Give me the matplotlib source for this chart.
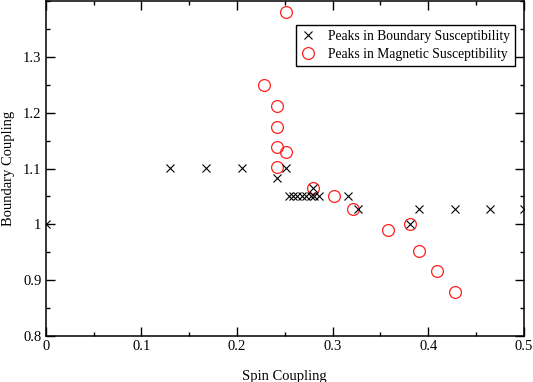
import matplotlib
matplotlib.use("Agg")
import matplotlib.pyplot as plt
from matplotlib.ticker import MultipleLocator, FuncFormatter

plt.rcParams['font.family'] = ['Liberation Serif', 'DejaVu Serif']

# Peaks in Boundary Susceptibility
bx = [0.0, 0.130, 0.168, 0.205, 0.251, 0.242,
      0.254, 0.259, 0.263, 0.268, 0.272, 0.277, 0.281, 0.286,
      0.279, 0.316, 0.326, 0.381, 0.390, 0.428, 0.465, 0.500]
by = [1.000, 1.101, 1.101, 1.101, 1.101, 1.083,
      1.050, 1.050, 1.050, 1.050, 1.050, 1.050, 1.050, 1.050,
      1.065, 1.050, 1.027, 1.000, 1.027, 1.027, 1.027, 1.027]

# Peaks in Magnetic Susceptibility
mx = [0.251, 0.228, 0.242, 0.242, 0.242, 0.251, 0.242, 0.279,
      0.301, 0.321, 0.358, 0.381, 0.390, 0.409, 0.428]
my = [1.380, 1.250, 1.213, 1.175, 1.139, 1.129, 1.102, 1.065,
      1.050, 1.027, 0.990, 1.000, 0.953, 0.916, 0.879]

xticks = [0, 0.1, 0.2, 0.3, 0.4, 0.5]
yticks = [0.8, 0.9, 1.0, 1.1, 1.2, 1.3]

fig = plt.figure(figsize=(5.33, 3.82), dpi=100)
ax = fig.add_axes([0.0857, 0.1204, 0.8973, 0.8766])

ax.plot(bx, by, linestyle='none', marker='x', color='black', markersize=6,
        markeredgewidth=0.8, label='Peaks in Boundary Susceptibility', zorder=3)
ax.plot(mx, my, linestyle='none', marker='o', markerfacecolor='none',
        markeredgecolor='#ff2020', markersize=8.5, markeredgewidth=0.9,
        label='Peaks in Magnetic Susceptibility', zorder=2)

ax.set_xlim(0, 0.5)
ax.set_ylim(0.8, 1.4)
ax.set_xticks(xticks)
ax.set_yticks(yticks)
ax.xaxis.set_minor_locator(MultipleLocator(0.05))
ax.yaxis.set_minor_locator(MultipleLocator(0.05))
fmt = FuncFormatter(lambda v, p: '%g' % round(v, 3))
ax.xaxis.set_major_formatter(fmt)
ax.yaxis.set_major_formatter(fmt)

ax.tick_params(which='both', direction='in', top=True, right=True,
               labelsize=10.5, width=1, color='black')
ax.tick_params(which='major', length=6.5, pad=3)
ax.tick_params(which='minor', length=3.2)
for s in ax.spines.values():
    s.set_linewidth(1.1)
    s.set_color('black')

ax.set_xlabel('Spin Coupling', fontsize=10.5, labelpad=12)
ax.set_ylabel('Boundary Coupling', fontsize=10.5, labelpad=6)

leg = ax.legend(loc='upper right', bbox_to_anchor=(0.981, 0.928), fontsize=9.8,
                frameon=True, fancybox=False, edgecolor='black', framealpha=1,
                handlelength=1.0, handletextpad=1.0, borderpad=0.35,
                labelspacing=0.35, borderaxespad=0)
leg.get_frame().set_linewidth(1.0)

fig.savefig('out.png', dpi=100)
